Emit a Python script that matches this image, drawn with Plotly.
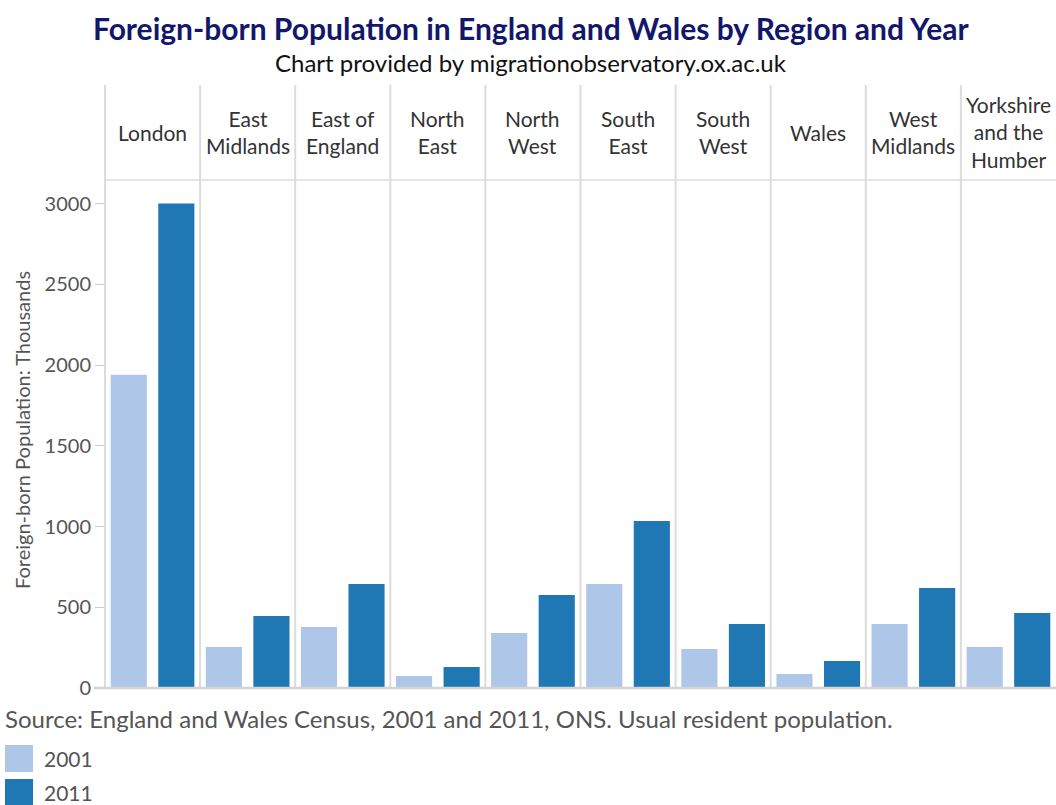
import plotly.graph_objects as go

# Data: foreign-born population (thousands) by region, census years 2001 and 2011
regions = ["London", "East Midlands", "East of England", "North East", "North West",
           "South East", "South West", "Wales", "West Midlands", "Yorkshire and the Humber"]
header_labels = ["London", "East<br>Midlands", "East of<br>England", "North<br>East", "North<br>West",
                 "South<br>East", "South<br>West", "Wales", "West<br>Midlands", "Yorkshire<br>and the<br>Humber"]
years = ["2001", "2011"]
pop_2001 = [1940, 254, 378, 74, 341, 644, 241, 87, 396, 254]
pop_2011 = [3000, 446, 644, 130, 576, 1034, 396, 167, 619, 464]
year_colors = {"2001": "#aec7e8", "2011": "#1f77b4"}
y_ticks = [0, 500, 1000, 1500, 2000, 2500, 3000]

W, H = 1056, 805
ML, MR, MT, MB = 105, 0, 85, 117
PW = W - ML - MR
PH = H - MT - MB
FONT = "Lato"
GRID = "#dcdcdc"


def px_x(px):
    return (px - ML) / PW


def px_y(py):
    return (H - MB - py) / PH


header_bottom = px_y(180)
n = len(regions)

fig = go.Figure()
layout = dict(
    width=W, height=H,
    margin=dict(l=ML, r=MR, t=MT, b=MB),
    plot_bgcolor="white", paper_bgcolor="white",
    showlegend=False, bargap=0.24,
    font=dict(family=FONT, color="#555555"),
)

for i, region in enumerate(regions):
    ax = "" if i == 0 else str(i + 1)
    fig.add_trace(go.Bar(
        x=years, y=[pop_2001[i], pop_2011[i]],
        marker=dict(color=[year_colors[y] for y in years], line=dict(width=0)),
        name=region, xaxis="x" + ax, yaxis="y",
        hovertemplate=region + " %{x}: %{y}k<extra></extra>",
    ))
    layout["xaxis" + ax] = dict(
        domain=[i / n, (i + 1) / n], showticklabels=False, showgrid=False,
        zeroline=False, showline=False, ticks="", anchor="y",
        type="category", categoryorder="array", categoryarray=years,
    )

layout["yaxis"] = dict(
    domain=[0, header_bottom], range=[0, 3146], tickvals=y_ticks,
    showgrid=False, zeroline=False, showline=False,
    ticks="outside", ticklen=9, tickcolor="#cccccc", tickwidth=1,
    tickfont=dict(size=20, color="#555555", family=FONT),
)

shapes = []
# Panel separators running through header and plot area
for i in range(n):
    shapes.append(dict(type="line", xref="paper", yref="paper",
                       x0=i / n, x1=i / n, y0=0, y1=1,
                       line=dict(color=GRID, width=2)))
# Header bottom rule
shapes.append(dict(type="line", xref="paper", yref="paper",
                   x0=0, x1=1, y0=header_bottom, y1=header_bottom,
                   line=dict(color=GRID, width=1.5)))
# Baseline
shapes.append(dict(type="line", xref="paper", yref="paper",
                   x0=px_x(94), x1=1, y0=px_y(688), y1=px_y(688),
                   line=dict(color="#d4d4d4", width=2.5)))

annotations = []
for i, lab in enumerate(header_labels):
    annotations.append(dict(
        text=lab, xref="paper", yref="paper",
        x=(i + 0.5) / n, y=px_y(132), xanchor="center", yanchor="middle",
        showarrow=False, font=dict(size=21, color="#333333", family=FONT),
    ))

annotations += [
    dict(text="<b>Foreign-born Population in England and Wales by Region and Year</b>",
         xref="paper", yref="paper", x=px_x(531), y=px_y(28),
         xanchor="center", yanchor="middle", showarrow=False,
         font=dict(size=30, color="#12176b", family=FONT)),
    dict(text="Chart provided by migrationobservatory.ox.ac.uk",
         xref="paper", yref="paper", x=px_x(531), y=px_y(62),
         xanchor="center", yanchor="middle", showarrow=False,
         font=dict(size=24, color="#111111", family=FONT)),
    dict(text="Foreign-born Population: Thousands",
         xref="paper", yref="paper", x=px_x(22), y=px_y(430),
         xanchor="center", yanchor="middle", showarrow=False, textangle=-90,
         font=dict(size=20, color="#555555", family=FONT)),
    dict(text="Source: England and Wales Census, 2001 and 2011, ONS. Usual resident population.",
         xref="paper", yref="paper", x=px_x(3), y=px_y(718),
         xanchor="left", yanchor="middle", showarrow=False,
         font=dict(size=24, color="#555555", family=FONT)),
]

# Legend swatches
for k, yr in enumerate(years):
    top = 745 + k * 34
    shapes.append(dict(type="rect", xref="paper", yref="paper",
                       x0=px_x(5), x1=px_x(33), y0=px_y(top + 27), y1=px_y(top),
                       fillcolor=year_colors[yr], line=dict(width=0)))
    annotations.append(dict(text=yr, xref="paper", yref="paper",
                            x=px_x(42), y=px_y(top + 13), xanchor="left", yanchor="middle",
                            showarrow=False, font=dict(size=21, color="#555555", family=FONT)))

layout["shapes"] = shapes
layout["annotations"] = annotations
fig.update_layout(**layout)
fig.write_html("out.html")
